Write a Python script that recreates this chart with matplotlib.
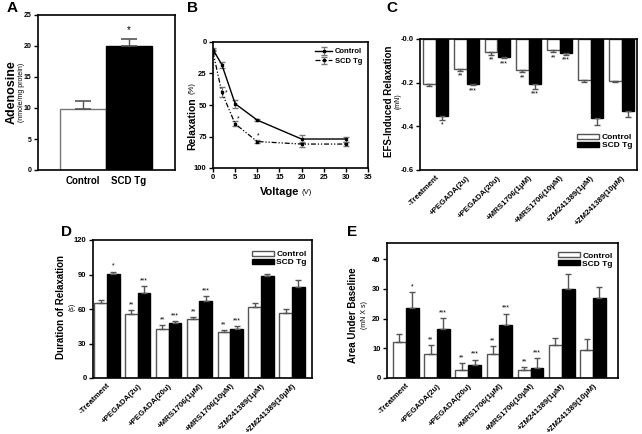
import numpy as np
import matplotlib.pyplot as plt

plt.rcParams['font.family'] = ['Liberation Sans', 'DejaVu Sans']
plt.rcParams['font.weight'] = 'bold'

# ---------- data ----------
adenosine_groups = ["Control", "SCD Tg"]
adenosine = [9.8, 20.0]
adenosine_err = [1.3, 1.1]

voltage = [0, 2, 5, 10, 20, 30]
relax_ctrl = [6, 18, 49, 62, 77, 77]
relax_ctrl_err = [1.5, 2.5, 3, 1, 3, 2]
relax_scd = [8, 40, 65, 79, 81, 81]
relax_scd_err = [1.5, 4, 2, 1.5, 2, 1.5]
relax_star_x = [3.0, 5.6, 10.2]
relax_star_y = [40, 61, 74.5]

treatments = ["-Treatment", "+PEGADA(2u)", "+PEGADA(20u)", "+MRS1706(1\u03bcM)",
              "+MRS1706(10\u03bcM)", "+ZM241389(1\u03bcM)", "+ZM241389(10\u03bcM)"]
ctrl_sig = ["", "**", "**", "**", "**", "", ""]
scd_sig = ["*", "***", "***", "***", "***", "", ""]

efs_ctrl = [-0.204, -0.138, -0.061, -0.142, -0.049, -0.188, -0.191]
efs_ctrl_err = [0.012, 0.008, 0.010, 0.010, 0.012, 0.008, 0.005]
efs_scd = [-0.351, -0.204, -0.081, -0.207, -0.064, -0.362, -0.328]
efs_scd_err = [0.018, 0.008, 0.008, 0.020, 0.008, 0.030, 0.027]

dur_ctrl = [65.5, 55.3, 42.5, 51.0, 39.6, 61.5, 56.8]
dur_ctrl_err = [2.0, 3.5, 3.5, 2.0, 2.0, 3.5, 3.2]
dur_scd = [90.3, 73.7, 47.5, 66.7, 42.8, 88.8, 78.9]
dur_scd_err = [2.3, 6.4, 1.7, 4.4, 2.3, 2.0, 6.1]

auc_ctrl = [12.3, 8.2, 2.7, 8.2, 2.7, 11.2, 9.5]
auc_ctrl_err = [2.6, 2.8, 2.3, 2.5, 1.1, 2.4, 3.7]
auc_scd = [23.5, 16.4, 4.5, 17.9, 3.5, 30.1, 27.1]
auc_scd_err = [5.4, 3.7, 1.7, 3.8, 3.3, 4.9, 3.5]


fig = plt.figure(figsize=(6.42, 4.34), dpi=100)


def box(l, t, r, b):
    # pixel box -> figure axes
    return fig.add_axes([l / 642, 1 - b / 434, (r - l) / 642, (b - t) / 434])


def style(ax):
    for s in ax.spines.values():
        s.set_linewidth(1.2)
    ax.tick_params(labelsize=5.5, length=3, width=1, pad=1.5)


def ylabel2(x, x2, y, main, sub, size=7):
    fig.text(x / 642, 1 - y / 434, main, rotation=90, ha='center', va='center',
             fontsize=size, fontweight='bold')
    fig.text(x2 / 642, 1 - y / 434, sub, rotation=90, ha='center', va='center',
             fontsize=5, fontweight='normal')


def grouped(ax, ctrl, ctrl_err, scd, scd_err, down=False):
    x = np.arange(len(ctrl))
    w = 0.41
    zero = [0] * len(ctrl)
    ye_c = [ctrl_err, zero] if down else [zero, ctrl_err]
    ye_s = [scd_err, zero] if down else [zero, scd_err]
    ax.bar(x - w / 2, ctrl, w, color='white', edgecolor='#555555', linewidth=1,
           yerr=ye_c, error_kw=dict(ecolor='#555555', elinewidth=1, capsize=2.5, capthick=1),
           label='Control')
    ax.bar(x + w / 2, scd, w, color='black', edgecolor='black', linewidth=1,
           yerr=ye_s, error_kw=dict(ecolor='#555555', elinewidth=1, capsize=2.5, capthick=1),
           label='SCD Tg')
    ax.set_xticks(x)
    ax.set_xticklabels(treatments, rotation=45, ha='right', rotation_mode='anchor',
                       fontsize=5.7, fontweight='bold')
    ax.tick_params(axis='x', length=0, pad=3)
    return x, w


def stars(ax, x, vals, errs, sigs, off, down=False):
    for xi, v, e, s in zip(x, vals, errs, sigs):
        if not s:
            continue
        if down:
            ax.text(xi, v - e - off, s, ha='center', va='top', fontsize=5,
                    fontweight='normal')
        else:
            ax.text(xi, v + e + off, s, ha='center', va='bottom', fontsize=5,
                    fontweight='normal')


def legend(ax, loc, anchor):
    ax.legend(loc=loc, bbox_to_anchor=anchor, frameon=False, fontsize=6,
              handlelength=2.6, handleheight=0.6, labelspacing=0.05,
              handletextpad=0.3, borderaxespad=0.2)


# ---------- A ----------
axA = box(38, 15, 175, 170)
style(axA)
axA.bar([0, 1], adenosine, 1.0, color=['white', 'black'],
        edgecolor=['#777777', 'black'], linewidth=1,
        yerr=[[0, 0], adenosine_err],
        error_kw=dict(ecolor='#555555', elinewidth=1, capsize=6, capthick=1.2))
axA.set_xlim(-0.98, 2.0)
axA.set_ylim(0, 25)
axA.set_yticks([0, 5, 10, 15, 20, 25])
axA.set_xticks([0, 1])
axA.set_xticklabels(adenosine_groups, fontsize=7, fontweight='bold')
axA.tick_params(axis='x', length=0, pad=4)
axA.tick_params(axis='y', labelsize=5)
axA.text(1, adenosine[1] + adenosine_err[1] + 0.6, "*", ha='center', va='bottom',
         fontsize=7, fontweight='normal')
ylabel2(12, 22, 92, "Adenosine", "(nmole/mg protein)", size=9)

# ---------- B ----------
axB = box(213, 42, 368, 168)
style(axB)
axB.errorbar(voltage, relax_ctrl, yerr=relax_ctrl_err, color='black', lw=1,
             marker='s', ms=1.8, ecolor='#777777', elinewidth=0.8, capsize=2,
             label='Control')
axB.errorbar(voltage, relax_scd, yerr=relax_scd_err, color='black', lw=0.9,
             ls=(0, (4, 1.5, 1, 1.5, 1, 1.5)), marker='s', ms=1.5,
             ecolor='#777777', elinewidth=0.8, capsize=2, label='SCD Tg')
for sx, sy in zip(relax_star_x, relax_star_y):
    axB.text(sx, sy, "*", ha='center', va='center', fontsize=5, fontweight='normal')
axB.set_xlim(0, 35)
axB.set_ylim(100, 0)
axB.set_xticks(range(0, 36, 5))
axB.set_yticks([0, 25, 50, 75, 100])
axB.legend(loc='upper right', frameon=False, fontsize=5.5, handlelength=2.2,
           labelspacing=0.3, handletextpad=0.3, borderaxespad=0.4)
fig.text(299 / 642, 1 - 192 / 434, "Voltage", ha='right', va='center', fontsize=8,
         fontweight='bold')
fig.text(301 / 642, 1 - 192 / 434, "(V)", ha='left', va='center', fontsize=5.5,
         fontweight='normal')
fig.text(192 / 642, 1 - 97 / 434, "Relaxation", rotation=90, ha='center', va='top',
         fontsize=7.5, fontweight='bold')
fig.text(192 / 642, 1 - 94 / 434, "(%)", rotation=90, ha='center', va='bottom',
         fontsize=5.5, fontweight='normal')

# ---------- C ----------
axC = box(420, 39, 637, 170)
style(axC)
x, w = grouped(axC, efs_ctrl, efs_ctrl_err, efs_scd, efs_scd_err, down=True)
stars(axC, x - w / 2, efs_ctrl, efs_ctrl_err, ctrl_sig, 0.008, down=True)
stars(axC, x + w / 2, efs_scd, efs_scd_err, scd_sig, 0.008, down=True)
axC.set_xlim(-0.5, 6.5)
axC.set_ylim(-0.6, 0.0)
axC.set_yticks([0.0, -0.2, -0.4, -0.6])
axC.set_yticklabels(["-0.0", "-0.2", "-0.4", "-0.6"])
legend(axC, 'lower right', (1.0, 0.12))
ylabel2(389, 398, 101, "EFS-Induced Relaxation", "(mN)")

# ---------- D ----------
axD = box(93, 240, 312, 378)
style(axD)
x, w = grouped(axD, dur_ctrl, dur_ctrl_err, dur_scd, dur_scd_err)
stars(axD, x - w / 2, dur_ctrl, dur_ctrl_err, ctrl_sig, 1.5)
stars(axD, x + w / 2, dur_scd, dur_scd_err, scd_sig, 1.5)
axD.set_xlim(-0.45, 6.65)
axD.set_ylim(0, 120)
axD.set_yticks([0, 30, 60, 90, 120])
legend(axD, 'upper right', (1.0, 0.96))
ylabel2(61, 72, 307, "Duration of Relaxation", "(s)")

# ---------- E ----------
axE = box(387, 243, 618, 378)
style(axE)
x, w = grouped(axE, auc_ctrl, auc_ctrl_err, auc_scd, auc_scd_err)
stars(axE, x - w / 2, auc_ctrl, auc_ctrl_err, ctrl_sig, 0.6)
stars(axE, x + w / 2, auc_scd, auc_scd_err, scd_sig, 0.6)
axE.set_xlim(-0.6, 6.8)
axE.set_ylim(0, 45.5)
axE.set_yticks([0, 10, 20, 30, 40])
legend(axE, 'upper right', (1.0, 0.97))
ylabel2(353, 365, 315, "Area Under Baseline", "(mN X s)")

# ---------- panel letters ----------
for lx, ly, letter in [(12, 8, "A"), (193, 8, "B"), (392, 8, "C"), (66, 232, "D"), (352, 232, "E")]:
    fig.text(lx / 642, 1 - ly / 434, letter, ha='center', va='center', fontsize=11,
             fontweight='bold')

fig.savefig("out.png", dpi=100)
